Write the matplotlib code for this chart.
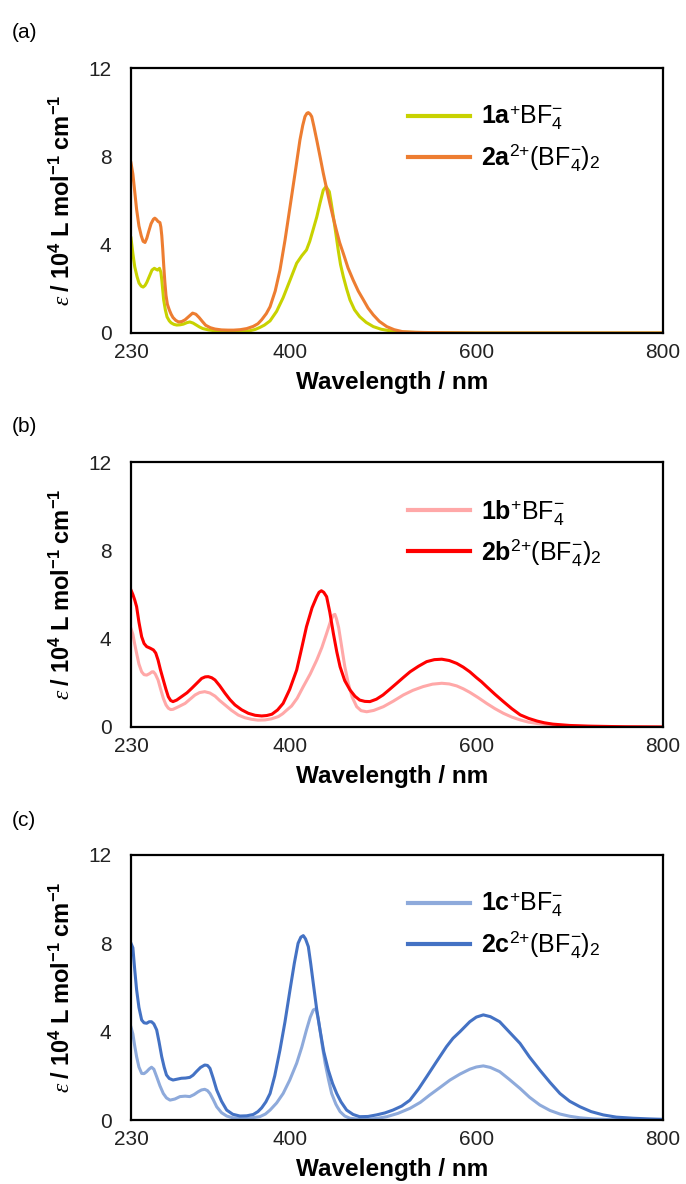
import numpy as np
import matplotlib
matplotlib.use('Agg')
from matplotlib import pyplot as plt

plt.rcParams['font.family'] = ['Liberation Sans', 'DejaVu Sans']
plt.rcParams['mathtext.fontset'] = 'custom'
plt.rcParams['mathtext.rm'] = 'Liberation Sans'
plt.rcParams['mathtext.it'] = 'Liberation Serif:italic'
plt.rcParams['mathtext.bf'] = 'Liberation Sans:bold'

# ---------- data (wavelength in nm, epsilon in 10^4 L mol-1 cm-1) ----------
wl_1a = [230, 232, 234, 236.5, 238.6, 241, 243, 245, 247, 250, 252.5, 255, 257, 258.5, 260.5, 262,
         263, 264, 265, 266.8, 268.6, 271, 273, 276, 279, 282.5, 286, 290, 293, 296.5, 300, 303.5,
         307, 313, 320, 328, 336, 346, 357, 363, 368, 373, 379, 386, 393, 400, 407.5, 413, 418,
         421.5, 425, 429, 432.5, 436, 439, 442.5, 444.5, 446.8, 449.5, 452, 454.5, 457.5, 461,
         464.6, 469.5, 475, 482, 489.6, 498, 507.5, 518, 530, 560, 600, 800]
eps_1a = [4.3, 3.6, 3.0, 2.55, 2.26, 2.12, 2.08, 2.15, 2.3, 2.6, 2.85, 2.93, 2.88, 2.85, 2.93, 2.75,
          2.4, 1.95, 1.5, 1.05, 0.73, 0.55, 0.46, 0.39, 0.36, 0.37, 0.4, 0.47, 0.5, 0.45, 0.36, 0.27,
          0.2, 0.14, 0.1, 0.08, 0.07, 0.07, 0.1, 0.16, 0.25, 0.36, 0.55, 0.98, 1.6, 2.35, 3.16, 3.5,
          3.76, 4.15, 4.66, 5.25, 5.88, 6.47, 6.63, 6.4, 5.9, 5.27, 4.5, 3.76, 3.1, 2.55, 2.0,
          1.5, 1.05, 0.74, 0.48, 0.29, 0.17, 0.1, 0.05, 0.03, 0.01, 0.0, 0.0]

wl_2a = [230, 232, 234, 236, 238.5, 241, 243, 245, 247, 249, 251.5, 254, 255.5, 257, 259, 261, 262,
         263, 264, 265, 266.2, 267.5, 269, 271, 273, 275, 278, 281, 284.5, 288, 292, 296, 299.5,
         303, 306.5, 310, 315, 320, 327, 334, 340, 347, 354, 361, 366, 370, 375, 379, 384.5,
         389.6, 395, 400.4, 406, 411, 414, 416.4, 418.5, 420, 421.8, 423.6, 426, 429, 432.5, 436,
         439.5, 443, 446.5, 450, 453.5, 457.5, 462.5, 468, 473.5, 479, 484, 489.6, 496, 504, 512,
         521, 535, 550, 600, 800]
eps_2a = [7.7, 7.2, 6.4, 5.6, 4.85, 4.4, 4.15, 4.1, 4.3, 4.6, 4.95, 5.15, 5.2, 5.15, 5.05, 5.0, 4.8,
          4.4, 3.8, 3.1, 2.35, 1.7, 1.3, 1.05, 0.85, 0.7, 0.57, 0.5, 0.52, 0.6, 0.75, 0.9, 0.85,
          0.7, 0.52, 0.35, 0.24, 0.18, 0.14, 0.13, 0.13, 0.15, 0.2, 0.3, 0.42, 0.6, 0.88, 1.19, 1.9,
          2.85, 4.2, 5.72, 7.3, 8.74, 9.4, 9.8, 9.95, 9.98, 9.92, 9.8, 9.35, 8.74, 8.0, 7.24,
          6.55, 5.88, 5.25, 4.66, 4.1, 3.6, 2.95, 2.4, 1.9, 1.5, 1.13, 0.82, 0.53, 0.29, 0.15,
          0.06, 0.03, 0.02, 0.0, 0.0]

wl_1b = [230, 232, 234, 236, 238.5, 241.4, 244, 246.8, 250, 252.5, 254, 256, 259, 261.5, 264.6,
         267.5, 270, 272.5, 275, 281, 288, 293, 298.6, 303.5, 309, 314.5, 320, 325, 330.7, 337.5,
         345, 352, 359, 366, 373.6, 380.5, 387.8, 392.5, 397, 402, 408, 414.6, 422, 429, 434.5,
         439.6, 443.5, 446.8, 448.5, 450, 452.5, 455.7, 459, 462.8, 467, 471.8, 476.5, 482.5, 490,
         500.4, 511, 521.8, 532, 543, 553, 563, 571, 579, 586, 593, 602, 611, 620, 629, 638, 647,
         656, 665, 680, 700, 725, 750, 800]
eps_1b = [4.45, 4.2, 3.75, 3.34, 2.85, 2.5, 2.37, 2.35, 2.42, 2.5, 2.5, 2.4, 2.13, 1.75, 1.3,
          1.0, 0.85, 0.79, 0.8, 0.92, 1.07, 1.25, 1.45, 1.56, 1.6, 1.54, 1.4, 1.2, 1.0, 0.76,
          0.54, 0.42, 0.35, 0.31, 0.32, 0.37, 0.47, 0.6, 0.77, 0.95, 1.3, 1.83, 2.4, 3.03, 3.6,
          4.24, 4.75, 5.07, 5.1, 4.92, 4.5, 3.64, 2.75, 1.98, 1.35, 0.92, 0.74, 0.69, 0.75,
          0.92, 1.17, 1.45, 1.66, 1.83, 1.94, 1.98, 1.95, 1.86, 1.73, 1.57, 1.33, 1.07, 0.83, 0.62,
          0.45, 0.32, 0.22, 0.16, 0.09, 0.04, 0.02, 0.01, 0.0]

wl_2b = [230, 232, 234, 236, 238.5, 241.4, 244, 246.8, 250.5, 254, 256.5, 259, 261.5, 264.6, 267.5,
         270, 272.5, 275, 279, 284, 290, 295, 300.5, 305.7, 309.5, 312.8, 316.5, 320, 325, 330.7,
         336, 341.4, 348.5, 355.7, 363, 370, 375.5, 381, 387, 393, 400, 407.5, 412.5, 418, 424,
         429, 431.5, 434, 436.5, 439.6, 443, 446.8, 450.5, 454, 459, 464.6, 470, 475, 480.5, 486,
         493, 500, 507, 514.7, 522, 529, 538, 546.8, 555, 563, 571, 579, 586, 593, 600, 605.5,
         611, 620, 629, 638, 647, 656, 665, 673, 682, 700, 720, 760, 800]
eps_2b = [6.2, 6.0, 5.75, 5.45, 4.75, 4.09, 3.78, 3.64, 3.57, 3.49, 3.35, 3.03, 2.6, 2.13, 1.7,
          1.37, 1.2, 1.15, 1.22, 1.37, 1.55, 1.75, 1.98, 2.2, 2.27, 2.28, 2.23, 2.13, 1.87, 1.53,
          1.24, 1.0, 0.78, 0.62, 0.53, 0.5, 0.52, 0.58, 0.77, 1.07, 1.7, 2.58, 3.5, 4.54, 5.4,
          5.9, 6.1, 6.17, 6.1, 5.9, 5.2, 4.24, 3.4, 2.73, 2.1, 1.68, 1.39, 1.22, 1.16, 1.15,
          1.26, 1.45, 1.7, 1.98, 2.25, 2.5, 2.75, 2.96, 3.05, 3.07, 3.01, 2.88, 2.71, 2.5, 2.24, 2.05,
          1.83, 1.48, 1.15, 0.83, 0.55, 0.39, 0.27, 0.19, 0.13, 0.07, 0.04, 0.01, 0.0]

wl_1c = [230, 232, 234, 236, 238.5, 241.4, 244, 246.8, 249.5, 252, 254.5, 257.5, 261, 264.6, 268,
         271.8, 277, 282.5, 288, 293, 297.5, 302, 305.5, 309, 312, 314.6, 318, 321.8, 327, 332.5,
         339, 346.8, 357, 368, 374, 379, 386, 393, 400, 407.5, 413, 418, 422, 425.3, 427, 428.5,
         430.5, 432.5, 435, 438, 441.5, 445, 449.5, 454, 459, 464.6, 473, 482.5, 493, 504, 516,
         529, 540, 550, 561, 571.8, 582.5, 593, 600, 607.5, 615, 625, 635, 646.8, 657, 668, 679,
         689.6, 700, 711, 725, 743, 770, 800]
eps_1c = [4.2, 3.9, 3.35, 2.87, 2.4, 2.11, 2.1, 2.19, 2.31, 2.39, 2.3, 1.96, 1.55, 1.2, 1.0,
          0.9, 0.95, 1.06, 1.08, 1.06, 1.15, 1.28, 1.36, 1.39, 1.33, 1.2, 0.93, 0.6, 0.33, 0.18,
          0.1, 0.08, 0.09, 0.15, 0.27, 0.45, 0.77, 1.2, 1.8, 2.57, 3.3, 4.08, 4.65, 4.98, 5.02, 4.98,
          4.6, 4.08, 3.35, 2.57, 1.85, 1.2, 0.72, 0.38, 0.18, 0.08, 0.04, 0.03, 0.07, 0.15, 0.3,
          0.53, 0.8, 1.13, 1.47, 1.81, 2.08, 2.3, 2.4, 2.45, 2.38, 2.19, 1.85, 1.43, 1.03, 0.68, 0.43,
          0.27, 0.17, 0.1, 0.05, 0.02, 0.01, 0.0]

wl_2c = [230, 232, 234, 236, 238.5, 241.4, 244, 246.8, 249.5, 252, 254.5, 257.5, 260, 262.9, 265.5,
         268, 271, 275, 279.5, 284, 288.5, 293, 296.5, 300, 304.5, 309, 312, 314.6, 318, 321.8, 327,
         332.5, 339, 346.8, 354, 361, 366, 370, 374.5, 379, 384, 389.6, 395, 400.4, 405, 409, 412,
         414.6, 417, 420, 422.5, 425.3, 429, 432.5, 436.5, 441.4, 446, 450.4, 455, 461, 468, 475,
         484, 493, 502, 510.7, 520, 528.9, 538, 546.8, 557, 568, 575, 582.5, 593, 600, 607.5, 615,
         625, 635, 646.8, 657, 668, 679, 689.6, 700, 711, 723, 736, 750, 768, 785, 800]
eps_2c = [8.0, 7.8, 6.8, 5.9, 5.1, 4.53, 4.4, 4.38, 4.45, 4.45, 4.35, 4.08, 3.55, 2.87, 2.4,
          2.04, 1.88, 1.81, 1.85, 1.89, 1.9, 1.93, 2.03, 2.19, 2.38, 2.49, 2.47, 2.34, 1.9, 1.36, 0.85,
          0.45, 0.26, 0.18, 0.19, 0.25, 0.38, 0.55, 0.82, 1.2, 2.0, 3.17, 4.45, 5.9, 7.1, 8.0, 8.28,
          8.35, 8.2, 7.85, 7.1, 6.19, 5.0, 4.08, 3.1, 2.26, 1.65, 1.2, 0.82, 0.45, 0.25, 0.15,
          0.16, 0.23, 0.32, 0.45, 0.63, 0.9, 1.4, 1.96, 2.62, 3.32, 3.7, 4.0, 4.45, 4.66, 4.76, 4.68,
          4.45, 4.0, 3.47, 2.85, 2.26, 1.7, 1.2, 0.85, 0.6, 0.38, 0.23, 0.13, 0.08, 0.05, 0.03]

panels = [
    ('(a)', wl_1a, eps_1a, wl_2a, eps_2a, '#c8d200', '#ed7d31', 'a'),
    ('(b)', wl_1b, eps_1b, wl_2b, eps_2b, '#ffa8a8', '#ff0000', 'b'),
    ('(c)', wl_1c, eps_1c, wl_2c, eps_2c, '#8eaadb', '#4472c4', 'c'),
]

fig = plt.figure(figsize=(6.86, 11.84), dpi=100)
W, H = 686.0, 1184.0
tops = [68, 462, 855]

for (tag, w1, e1, w2, e2, c1, c2, letter), top in zip(panels, tops):
    ax = fig.add_axes([131 / W, 1 - (top + 265) / H, 532 / W, 265 / H])
    ax.plot(w1, e1, color=c1, lw=2.2, solid_joinstyle='round',
            label=r'$\mathbf{1%s}^{+}\mathrm{BF}_{4}^{-}$' % letter)
    ax.plot(w2, e2, color=c2, lw=2.2, solid_joinstyle='round',
            label=r'$\mathbf{2%s}^{2{+}}\mathrm{(BF}_{4}^{-}\mathrm{)}_{2}$' % letter)
    ax.set_xlim(230, 800)
    ax.set_ylim(0, 12)
    ax.set_xticks([230, 400, 600, 800])
    ax.set_yticks([0, 4, 8, 12])
    ax.tick_params(length=0, labelsize=15, colors='#222222')
    ax.tick_params(axis='x', pad=7)
    ax.tick_params(axis='y', pad=14)
    for s in ax.spines.values():
        s.set_linewidth(1.6)
        s.set_color('black')
    ax.set_xlabel('Wavelength / nm', fontsize=17.5, fontweight='bold')
    ax.xaxis.set_label_coords(0.49, -0.145)
    ax.xaxis.label.set_va('top')
    ax.set_ylabel(r'$\mathit{ε}$' + r'$\mathbf{\ /\ 10^{4}\ L\ mol^{-1}\ cm^{-1}}$', fontsize=17)
    ax.yaxis.set_label_coords(-0.105, 0.5)
    leg = ax.legend(loc='upper left', bbox_to_anchor=(0.52, 0.866), frameon=False,
                    fontsize=18, handlelength=2.5, handletextpad=0.45, labelspacing=0.4,
                    borderpad=0, borderaxespad=0)
    for ln in leg.get_lines():
        ln.set_linewidth(3)
    fig.text(12 / W, 1 - (top - 35) / H, tag, fontsize=15, va='center', ha='left')

plt.savefig('out.png', dpi=100)
